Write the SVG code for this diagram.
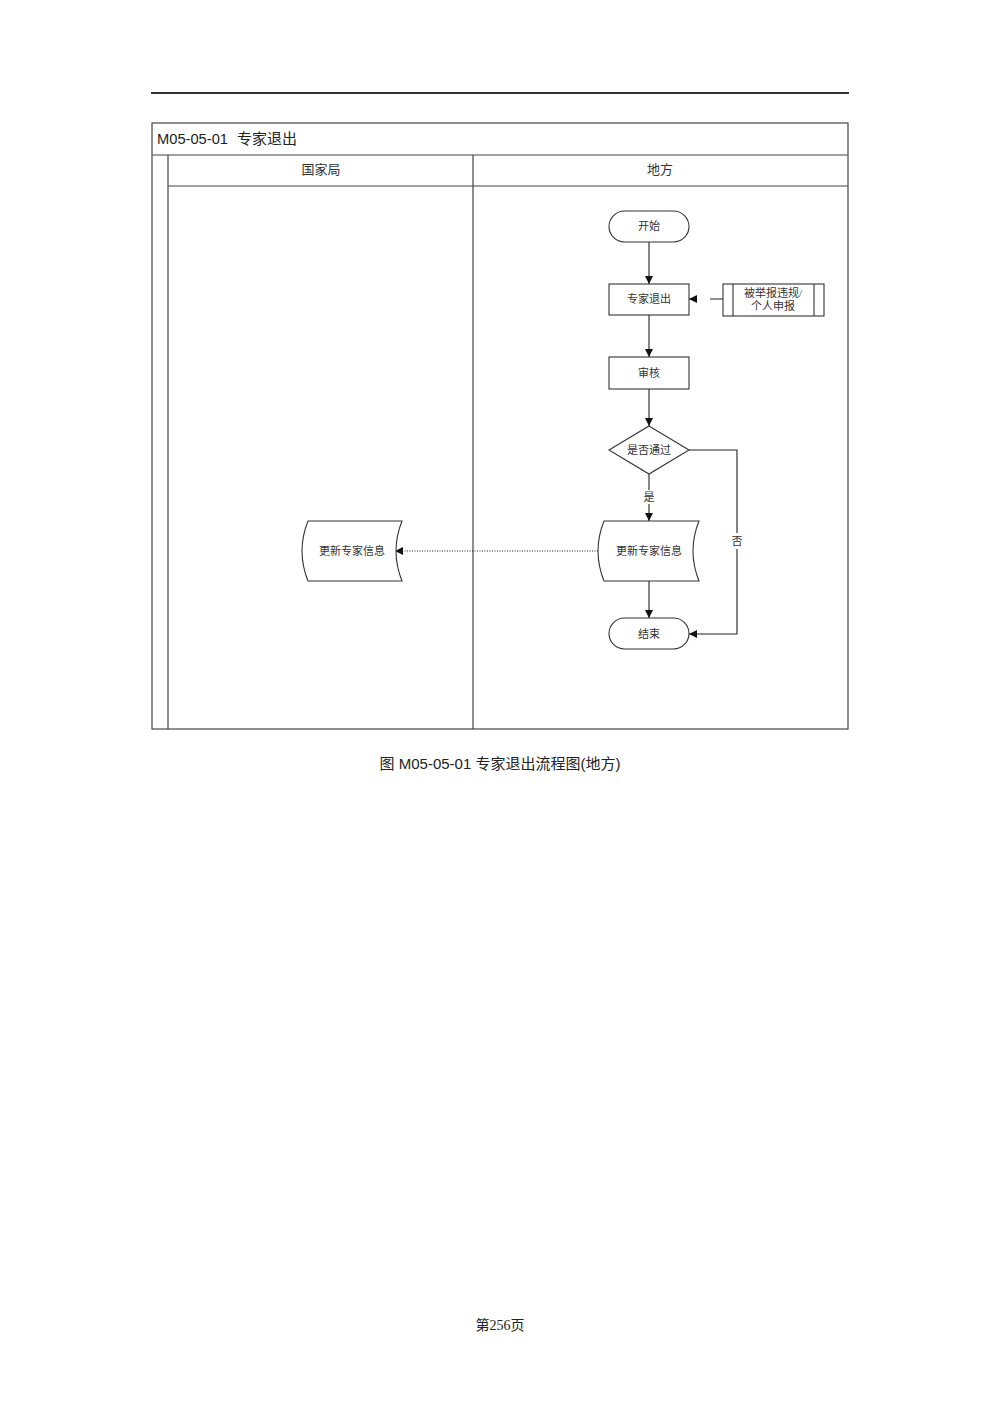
<svg xmlns="http://www.w3.org/2000/svg" width="1000" height="1415" viewBox="0 0 1000 1415">
<style>
.frame{fill:none;stroke:#444;stroke-width:1.2}
.node{fill:#fff;stroke:#333;stroke-width:1.1}
.t{font-family:"Liberation Serif","Noto Sans CJK SC",serif;font-size:11px;fill:#333;text-anchor:middle}
.hdr{font-family:"Liberation Serif","Noto Sans CJK SC",serif;font-size:13px;fill:#333;text-anchor:middle}
.conn{fill:none;stroke:#222;stroke-width:1.1}
</style>
<defs>
<marker id="ah" viewBox="0 0 10 10" refX="10" refY="5" markerWidth="8" markerHeight="8" markerUnits="userSpaceOnUse" orient="auto">
<path d="M0,0 L10,5 L0,10 Z" fill="#111"/>
</marker>
</defs>
<rect width="1000" height="1415" fill="#fff"/>
<line x1="151" y1="93" x2="849" y2="93" stroke="#333" stroke-width="2"/>
<g id="frame">
<rect class="frame" x="152" y="123" width="696" height="606"/>
<line class="frame" x1="152" y1="155" x2="848" y2="155"/>
<line class="frame" x1="168" y1="155" x2="168" y2="729"/>
<line class="frame" x1="168" y1="186" x2="848" y2="186"/>
<line class="frame" x1="473" y1="155" x2="473" y2="729"/>
<text x="157" y="144" font-family="'Liberation Sans','Noto Sans CJK SC',sans-serif" font-size="15" fill="#222" textLength="71" lengthAdjust="spacingAndGlyphs">M05-05-01</text>
<text x="237" y="144" font-family="'Noto Sans CJK SC',sans-serif" font-size="15" fill="#222">专家退出</text>
<text class="hdr" x="321" y="174">国家局</text>
<text class="hdr" x="660" y="174">地方</text>
</g>
<g id="connectors">
<line class="conn" x1="649" y1="242" x2="649" y2="284" marker-end="url(#ah)"/>
<line class="conn" x1="723" y1="299" x2="689" y2="299" stroke-dasharray="13,13" marker-end="url(#ah)"/>
<line class="conn" x1="649" y1="315" x2="649" y2="357" marker-end="url(#ah)"/>
<line class="conn" x1="649" y1="389" x2="649" y2="426" marker-end="url(#ah)"/>
<line class="conn" x1="649" y1="474" x2="649" y2="521" marker-end="url(#ah)"/>
<rect x="642" y="490" width="14" height="14" fill="#fff"/>
<text class="t" x="649" y="501">是</text>
<line class="conn" x1="598" y1="551" x2="395" y2="551" stroke-dasharray="1,1.5" stroke-width="0.9" marker-end="url(#ah)"/>
<line class="conn" x1="649" y1="581" x2="649" y2="618" marker-end="url(#ah)"/>
<polyline class="conn" points="689,450 737,450 737,634 689,634" marker-end="url(#ah)"/>
<rect x="730" y="533" width="14" height="16" fill="#fff"/>
<text class="t" x="737" y="545">否</text>
</g>
<g id="start">
<rect class="node" x="609" y="211" width="80" height="31" rx="15.5"/>
<text class="t" x="649" y="230">开始</text>
</g>
<g id="exit">
<rect class="node" x="609" y="284" width="80" height="31"/>
<text class="t" x="649" y="303">专家退出</text>
</g>
<g id="report">
<rect class="node" x="723" y="284" width="101" height="32"/>
<line class="node" x1="733" y1="284" x2="733" y2="316"/>
<line class="node" x1="814" y1="284" x2="814" y2="316"/>
<text class="t" x="773" y="297">被举报违规/</text>
<text class="t" x="773" y="310">个人申报</text>
</g>
<g id="review">
<rect class="node" x="609" y="357" width="80" height="32"/>
<text class="t" x="649" y="377">审核</text>
</g>
<g id="decision">
<polygon class="node" points="649,426 689,450 649,474 609,450"/>
<text class="t" x="649" y="454">是否通过</text>
</g>
<g id="update-local">
<path class="node" d="M604,521 L699,521 Q687,551 699,581 L604,581 Q592,551 604,521 Z"/>
<text class="t" x="649" y="555">更新专家信息</text>
</g>
<g id="update-national">
<path class="node" d="M308,521 L402,521 Q390,551 402,581 L308,581 Q296,551 308,521 Z"/>
<text class="t" x="352" y="555">更新专家信息</text>
</g>
<g id="end">
<rect class="node" x="609" y="618" width="80" height="31" rx="15.5"/>
<text class="t" x="649" y="638">结束</text>
</g>
<text x="500" y="769" font-family="'Liberation Sans','Noto Sans CJK SC',sans-serif" font-size="15" fill="#222" text-anchor="middle">图 M05-05-01 专家退出流程图(地方)</text>
<text x="500" y="1330" font-family="'Liberation Serif','Noto Sans CJK SC',serif" font-size="14" fill="#222" text-anchor="middle">第256页</text>
</svg>
